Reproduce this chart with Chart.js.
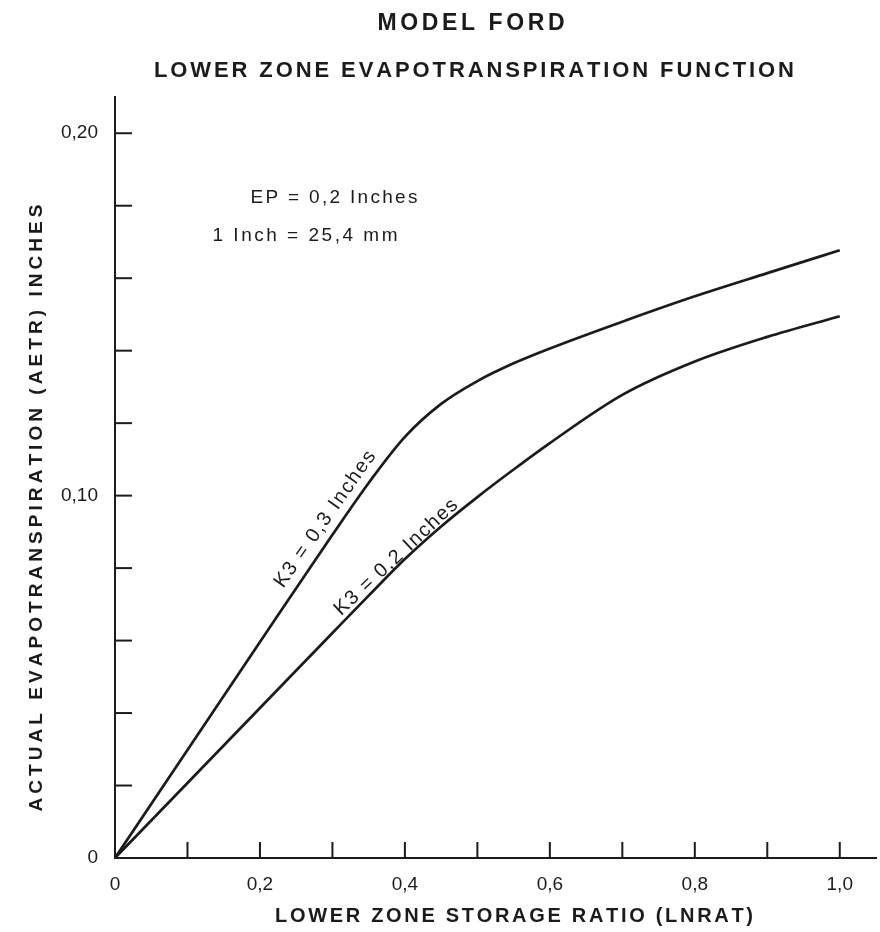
<!DOCTYPE html>
<html>
<head>
<meta charset="utf-8">
<script src="https://cdn.jsdelivr.net/npm/chart.js@4.4.1/dist/chart.umd.min.js"></script>
<style>
  html, body { margin: 0; background: #fff; }
  canvas { display: block; }
</style>
</head>
<body>
<canvas id="chart" width="880" height="932"></canvas>
<script>
// values (LNRAT -> AETR, inches)
const lnrat      = [0, 0.1, 0.2, 0.3, 0.35, 0.4, 0.45, 0.5, 0.55, 0.6, 0.7, 0.8, 0.9, 1.0];
const aetrK3_03  = [0, 0.0298, 0.0596, 0.0892, 0.1035, 0.1162, 0.1253, 0.1316, 0.1365, 0.1406, 0.1480, 0.1550, 0.1614, 0.1677];
const aetrK3_02  = [0, 0.0207, 0.0414, 0.0621, 0.0724, 0.0825, 0.0915, 0.0996, 0.1072, 0.1145, 0.1278, 0.1370, 0.1438, 0.1495];
const seriesNames = ['K3 = 0,3 Inches', 'K3 = 0,2 Inches'];
const noteLines   = ['EP = 0,2 Inches', '1 Inch = 25,4 mm'];

const INK = '#1b1b1b';
const FONT = '"Liberation Sans", Arial, sans-serif';

function toPoints(xs, ys) {
    return xs.map((x, i) => ({ x: x, y: ys[i] }));
}

function isStep(v, step) {
    return Math.abs(v / step - Math.round(v / step)) < 1e-6;
}

// draws text spread over a fixed width, centred on (cx, cy)
function drawSpread(ctx, text, cx, cy, width) {
    const chars = [...text];
    const widths = chars.map(c => ctx.measureText(c).width);
    const natural = widths.reduce((a, b) => a + b, 0);
    const gap = chars.length > 1 ? (width - natural) / (chars.length - 1) : 0;
    let x = cx - width / 2;
    ctx.textAlign = 'left';
    ctx.textBaseline = 'middle';
    chars.forEach((c, i) => {
        ctx.fillText(c, x, cy);
        x += widths[i] + gap;
    });
}

const inwardTicks = {
    id: 'inwardTicks',
    afterDraw(chart) {
        const { ctx, scales: { x, y } } = chart;
        ctx.save();
        ctx.strokeStyle = INK;
        ctx.lineWidth = 2;
        x.ticks.forEach(t => {
            if (t.value === 0) return;
            const px = x.getPixelForValue(t.value);
            ctx.beginPath();
            ctx.moveTo(px, y.bottom);
            ctx.lineTo(px, y.bottom - 16);
            ctx.stroke();
        });
        y.ticks.forEach(t => {
            if (t.value === 0) return;
            const py = y.getPixelForValue(t.value);
            ctx.beginPath();
            ctx.moveTo(x.left, py);
            ctx.lineTo(x.left + 17, py);
            ctx.stroke();
        });
        ctx.restore();
    }
};

const texts = {
    id: 'texts',
    afterDraw(chart) {
        const { ctx, scales: { x, y } } = chart;
        ctx.save();
        ctx.fillStyle = INK;

        // titles
        ctx.font = 'bold 23px ' + FONT;
        drawSpread(ctx, 'MODEL FORD', 471, 24, 187);
        ctx.font = 'bold 22px ' + FONT;
        drawSpread(ctx, 'LOWER ZONE EVAPOTRANSPIRATION FUNCTION', 474, 71, 640);

        // axis titles
        ctx.font = 'bold 20px ' + FONT;
        drawSpread(ctx, 'LOWER ZONE STORAGE RATIO (LNRAT)', 514, 916, 478);
        ctx.save();
        ctx.translate(37, 508);
        ctx.rotate(-Math.PI / 2);
        ctx.font = 'bold 19px ' + FONT;
        drawSpread(ctx, 'ACTUAL EVAPOTRANSPIRATION (AETR) INCHES', 0, 0, 607);
        ctx.restore();

        // notes
        ctx.font = '19px ' + FONT;
        drawSpread(ctx, noteLines[0], 334, 198, 167);
        drawSpread(ctx, noteLines[1], 305, 236, 185);

        // curve labels along the lines
        const labels = [
            { text: seriesNames[0], x: 0.290, y: 0.0935, angle: -55, width: 162 },
            { text: seriesNames[1], x: 0.388, y: 0.0830, angle: -43, width: 161 }
        ];
        ctx.font = '20px ' + FONT;
        labels.forEach(l => {
            ctx.save();
            ctx.translate(x.getPixelForValue(l.x), y.getPixelForValue(l.y));
            ctx.rotate(l.angle * Math.PI / 180);
            drawSpread(ctx, l.text, 0, 0, l.width);
            ctx.restore();
        });
        ctx.restore();
    }
};

const ctx = document.getElementById('chart').getContext('2d');
new Chart(ctx, {
    type: 'line',
    data: {
        datasets: [
            { label: seriesNames[0], data: toPoints(lnrat, aetrK3_03) },
            { label: seriesNames[1], data: toPoints(lnrat, aetrK3_02) }
        ].map(d => Object.assign(d, {
            borderColor: INK,
            borderWidth: 2.7,
            pointRadius: 0,
            fill: false,
            cubicInterpolationMode: 'monotone'
        }))
    },
    options: {
        responsive: false,
        animation: false,
        layout: { padding: { top: 97, right: 4, left: 0, bottom: 0 } },
        plugins: {
            legend: { display: false },
            tooltip: { enabled: false },
            title: { display: false }
        },
        scales: {
            x: {
                type: 'linear',
                min: 0,
                max: 1.05,
                afterFit: s => { s.height = 74; },
                grid: { drawOnChartArea: false, drawTicks: false },
                border: { color: INK, width: 2 },
                ticks: {
                    stepSize: 0.1,
                    includeBounds: false,
                    autoSkip: false,
                    maxRotation: 0,
                    padding: 15,
                    color: INK,
                    font: { family: FONT, size: 19 },
                    callback: v => {
                        if (!isStep(v, 0.2)) return '';
                        return v === 0 ? '0' : v.toFixed(1).replace('.', ',');
                    }
                }
            },
            y: {
                type: 'linear',
                min: 0,
                max: 0.21,
                afterFit: s => { s.width = 115; },
                grid: { drawOnChartArea: false, drawTicks: false },
                border: { color: INK, width: 2 },
                ticks: {
                    stepSize: 0.02,
                    includeBounds: false,
                    autoSkip: false,
                    padding: 17,
                    color: INK,
                    font: { family: FONT, size: 19 },
                    callback: v => {
                        if (!isStep(v, 0.1)) return '';
                        return v === 0 ? '0' : v.toFixed(2).replace('.', ',');
                    }
                }
            }
        }
    },
    plugins: [inwardTicks, texts]
});
</script>
</body>
</html>
